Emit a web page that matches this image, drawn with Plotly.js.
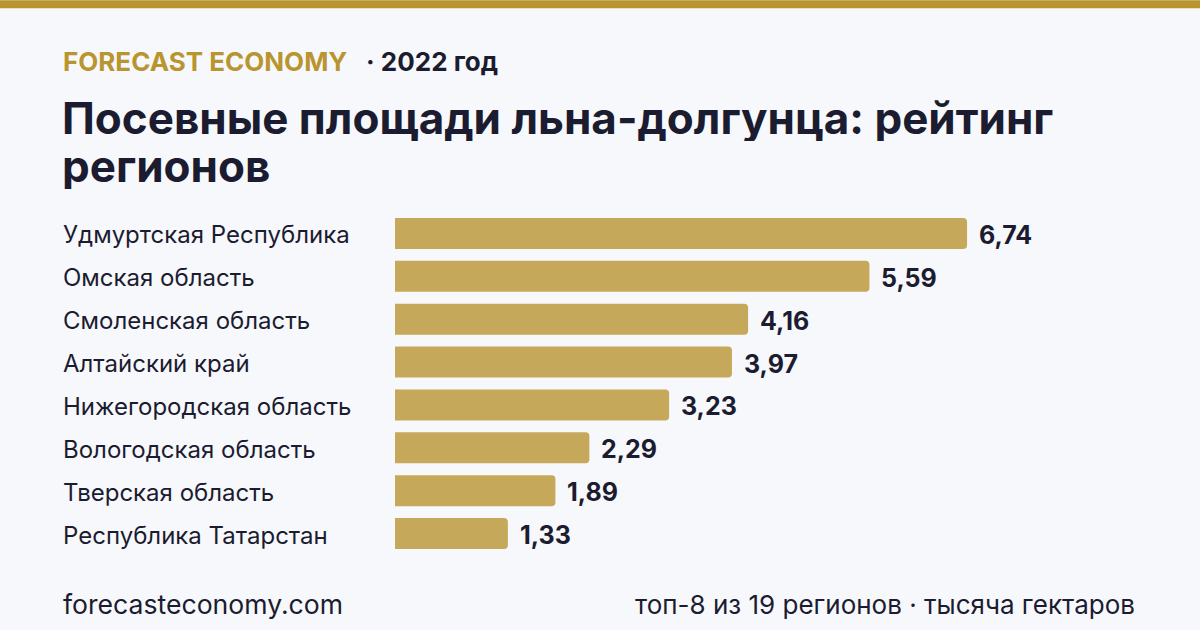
<!DOCTYPE html>
<html>
<head>
<meta charset="utf-8">
<script src="https://cdn.plot.ly/plotly-3.0.1.min.js"></script>
<style>
  html, body { margin: 0; padding: 0; background: #f7f8fc; }
  #chart { width: 1200px; height: 630px; }
</style>
</head>
<body>
<div id="chart"></div>
<script>
// Flax sown area by region, thousand hectares, 2022
const regions = [
  "Удмуртская Республика",
  "Омская область",
  "Смоленская область",
  "Алтайский край",
  "Нижегородская область",
  "Вологодская область",
  "Тверская область",
  "Республика Татарстан"
];
const areas = [6.74, 5.59, 4.16, 3.97, 3.23, 2.29, 1.89, 1.33];

const brandText = "FORECAST ECONOMY";
const yearText = "· 2022 год";
const titleLines = ["Посевные площади льна-долгунца: рейтинг", "регионов"];
const sourceText = "forecasteconomy.com";
const noteText = "топ-8 из 19 регионов · тысяча гектаров";

const W = 1200, H = 630;
const M = { l: 395, r: 126, t: 212, b: 74.5 };
const PW = W - M.l - M.r, PH = H - M.t - M.b;
const px = x => (x - M.l) / PW;          // pixel -> paper x
const py = y => (H - M.b - y) / PH;      // pixel -> paper y
const PAD = 3;                           // annotation inner padding

const dark = "#1c1c30";
const gold = "#b8952e";
const barColor = "#c5a85a";
const fontFam = "Inter, 'Noto Sans', sans-serif";
const fmt = v => v.toFixed(2).replace(".", ",");

const annotations = [];
const note = (x, y, text, size, color, anchor, boxH) => annotations.push({
  xref: "paper", yref: "paper", x: px(anchor === "right" ? x + PAD : x - PAD), y: py(y),
  text: text, xanchor: anchor || "left", yanchor: "middle", showarrow: false,
  height: boxH, valign: "middle",
  font: { family: fontFam, size: size, color: color }
});

// category labels at the left
regions.forEach(r => {
  annotations.push({
    xref: "paper", yref: "y", x: px(64 - PAD), y: r, text: r,
    xanchor: "left", yanchor: "middle", showarrow: false, yshift: -1.5,
    font: { family: fontFam, size: 24, color: dark }
  });
});

// value labels after the bar ends
regions.forEach((r, i) => {
  annotations.push({
    xref: "x", yref: "y", x: areas[i], y: r, text: "<b>" + fmt(areas[i]) + "</b>",
    xanchor: "left", yanchor: "middle", showarrow: false, xshift: 10, yshift: -1.5,
    font: { family: fontFam, size: 25, color: dark }
  });
});

// header
note(64, 61, "<b>" + brandText + "</b>", 26, gold);
note(367, 61, "<b>" + yearText + "</b>", 26, dark);
note(63, 117, "<b>" + titleLines[0] + "</b>", 44, dark, "left", 47);
note(63, 165, "<b>" + titleLines[1] + "</b>", 44, dark, "left", 47);
// footer
note(64, 605, sourceText, 26.6, dark);
note(1134, 605, noteText, 26, dark, "right");

const data = [{
  type: "bar",
  orientation: "h",
  x: areas,
  y: regions,
  marker: { color: barColor, cornerradius: 4 },
  hoverinfo: "none"
}];

const layout = {
  width: W, height: H,
  margin: M,
  paper_bgcolor: "#f7f8fc",
  plot_bgcolor: "#f7f8fc",
  bargap: 0.278,
  showlegend: false,
  xaxis: { range: [0, 8], visible: false, fixedrange: true },
  yaxis: { autorange: "reversed", showticklabels: false, showgrid: false,
           zeroline: false, showline: false, ticks: "", fixedrange: true },
  shapes: [{
    type: "rect", xref: "paper", yref: "paper",
    x0: px(0), x1: px(W), y0: py(8), y1: py(0),
    fillcolor: gold, line: { width: 0 }, layer: "above"
  }],
  annotations: annotations
};

Plotly.newPlot("chart", data, layout, { displayModeBar: false, staticPlot: true });
</script>
</body>
</html>
